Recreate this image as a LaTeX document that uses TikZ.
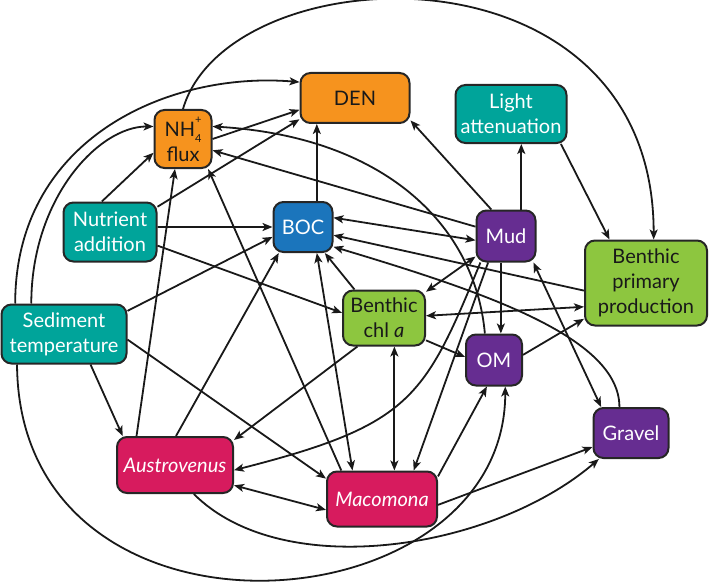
\documentclass[tikz,border=0pt]{standalone}
\usepackage{fontspec}
\setmainfont{Lato}
\usetikzlibrary{arrows.meta}

\definecolor{fluxcol}{RGB}{246,147,30}
\definecolor{drivercol}{RGB}{0,164,154}
\definecolor{boccol}{RGB}{27,117,188}
\definecolor{sedcol}{RGB}{102,45,145}
\definecolor{plantcol}{RGB}{141,198,63}
\definecolor{faunacol}{RGB}{215,27,94}

\tikzset{
  varbox/.style={draw=black!85, line width=2pt, rounded corners=10pt, align=center, inner sep=1pt, font=\fontsize{20}{25}\selectfont},
  fluxbox/.style={varbox, fill=fluxcol, text=black!90},
  driverbox/.style={varbox, fill=drivercol, text=white},
  bocbox/.style={varbox, fill=boccol, text=white},
  sedbox/.style={varbox, fill=sedcol, text=white},
  plantbox/.style={varbox, fill=plantcol, text=black!90},
  faunabox/.style={varbox, fill=faunacol, text=white},
  link/.style={line width=1.8pt, black!90, -{Stealth[length=10pt,width=8pt,inset=2.5pt]}},
  twoway/.style={line width=1.8pt, black!90, {Stealth[length=10pt,width=8pt,inset=2.5pt]}-{Stealth[length=10pt,width=8pt,inset=2.5pt]}},
}
\newcommand{\smallidx}[1]{{\fontsize{11}{11}\selectfont #1}}

\begin{document}
\begin{tikzpicture}[x=1pt, y=-1pt]
\useasboundingbox (0,0) rectangle (709,583);


\node[fluxbox, minimum width=57pt, minimum height=58pt] (nh4) at (183,139) {NH\rlap{\raisebox{1.3ex}{\smallidx{+}}}\raisebox{-0.6ex}{\smallidx{4}}\\flux};
\node[fluxbox, minimum width=109pt, minimum height=50pt] (den) at (355,98) {DEN};
\node[driverbox, minimum width=111pt, minimum height=58pt] (light) at (511,114) {Light\\attenuation};
\node[driverbox, minimum width=93pt, minimum height=59pt] (nut) at (110,232) {Nutrient\\addition};
\node[driverbox, minimum width=125pt, minimum height=59pt] (sed) at (64,334) {Sediment\\temperature};
\node[bocbox, minimum width=59pt, minimum height=50pt] (boc) at (303,227) {BOC};
\node[sedbox, minimum width=59pt, minimum height=51pt] (mud) at (506,236) {Mud};
\node[sedbox, minimum width=56pt, minimum height=51pt] (om) at (494,360) {OM};
\node[sedbox, minimum width=75pt, minimum height=50pt] (gravel) at (631,433) {Gravel};
\node[plantbox, minimum width=122pt, minimum height=85pt] (bpp) at (646,283) {Benthic\\primary\\production};
\node[plantbox, minimum width=82pt, minimum height=55pt] (chl) at (384,318) {Benthic\\chl \textit{a}};
\node[faunabox, minimum width=116pt, minimum height=56pt] (aus) at (175,465) {\textit{Austrovenus}};
\node[faunabox, minimum width=110pt, minimum height=55pt] (mac) at (382,499) {\textit{Macomona}};


\draw[link] (nh4.north) .. controls +(45,-155) and +(0,-305) .. (bpp.80);
\draw[link] (sed.148) .. controls +(0,-165) and +(-131,-11) .. (den.164);
\draw[link] (sed.137) .. controls +(0,-105) and +(-55,0) .. (nh4.157);
\draw[link] (nut.105) -- (nh4.205);
\draw[link] (nut.28) -- (den.201);
\draw[link] (nh4.east) -- (den.192);
\draw[link] (nut.6) -- (boc.west);
\draw[link] (nut.-16) -- (chl.173);

\draw[link] (boc.62) -- (boc.62 |- den.south);
\draw[link] (mud.119) -- (den.-22);
\draw[link] (mud.60) -- (mud.60 |- light.south);
\draw[link] (light.-31) -- (bpp.130);
\draw[twoway] (boc.17) -- (mud.188);
\draw[link] (mud.163) -- (nh4.-21);
\draw[link] (bpp.187) -- (boc.-15);
\draw[link] (gravel.114) .. controls +(0,-70) and +(150,45) .. (boc.-33);

\draw[twoway] (boc.-62) -- (mac.136);
\draw[link] (aus.88) -- (boc.227);
\draw[link] (sed.20) -- (boc.198);
\draw[link] (chl.136) -- (boc.-50);
\draw[link] (mac.145) -- (nh4.-50);
\draw[link] (aus.143) -- (nh4.-105);

\draw[twoway] (chl.3) -- (bpp.201);
\draw[twoway] (chl.32) -- (mud.214);
\draw[twoway] (chl.-70) -- (chl.-70 |- mac.north);
\draw[link] (chl.-28) -- (om.174);
\draw[link] (chl.227) -- (aus.23);
\draw[link] (mud.-101) -- (mud.-101 |- om.north);
\draw[link] (om.10) -- (bpp.210);
\draw[twoway] (mud.-44) -- (gravel.139);
\draw[link] (om.109) .. controls +(-10,-110) and +(170,10) .. (nh4.23);
\draw[link] (mud.236) -- (mac.42);
\draw[link] (mud.226) .. controls +(-56,136) and +(177,-45) .. (aus.-5);

\draw[link] (mac.22) -- (om.255);
\draw[link] (sed.213) .. controls +(2,301) and +(0,244) .. (om.-67);
\draw[link] (aus.-57) .. controls +(89,89) and +(-106,91) .. (gravel.219);
\draw[link] (mac.-6) -- (gravel.200);
\draw[twoway] (aus.-19) -- (mac.191);
\draw[link] (sed.-5) -- (mac.160);
\draw[link] (sed.-49) -- (aus.151);


\end{tikzpicture}
\end{document}
